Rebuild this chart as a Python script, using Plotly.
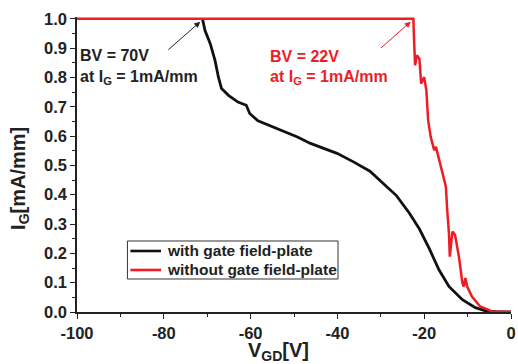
import plotly.graph_objects as go

# ---- data ----
black_v = [-71.1, -70.5, -69.3, -68.2, -67.4, -66.7, -65.1, -62.9, -61.0, -60.2, -58.3, -55.5,
           -53.0, -49.2, -46.2, -43.1, -40.1, -36.3, -32.5, -29.5, -26.4, -23.4, -21.1, -18.8,
           -16.6, -14.3, -11.2, -8.2, -5.9, -3.0, 0.0]
black_i = [1.0, 0.96, 0.915, 0.858, 0.80, 0.762, 0.739, 0.716, 0.705, 0.677, 0.652, 0.635,
           0.62, 0.597, 0.575, 0.558, 0.541, 0.512, 0.480, 0.439, 0.397, 0.337, 0.283, 0.215,
           0.144, 0.087, 0.042, 0.015, 0.004, 0.0, 0.0]

red_v = [-100.0, -22.5, -22.3, -22.1, -21.7, -21.1, -20.7, -20.0, -19.5, -19.1, -18.5, -17.7,
         -17.3, -16.7, -16.2, -15.0, -14.7, -14.3, -14.1, -13.5, -12.9, -12.0, -11.2, -10.9,
         -10.5, -10.1, -9.0, -7.1, -5.6, -4.4, 0.0]
red_i = [1.0, 1.0, 0.915, 0.841, 0.875, 0.864, 0.779, 0.801, 0.756, 0.654, 0.597, 0.552,
         0.563, 0.529, 0.495, 0.427, 0.348, 0.269, 0.189, 0.274, 0.263, 0.189, 0.099, 0.087,
         0.116, 0.087, 0.053, 0.019, 0.010, 0.002, 0.0]

x_tickvals = [-100, -80, -60, -40, -20, 0]
x_ticktext = ["-100", "-80", "-60", "-40", "-20", "0"]
y_tickvals = [0.0, 0.1, 0.2, 0.3, 0.4, 0.5, 0.6, 0.7, 0.8, 0.9, 1.0]
y_ticktext = ["0.0", "0.1", "0.2", "0.3", "0.4", "0.5", "0.6", "0.7", "0.8", "0.9", "1.0"]

series_names = ["with gate field-plate", "without gate field-plate"]

BLACK = "#111111"
RED = "#ee1c25"
TXT = "#222222"
FONT = "Liberation Sans, Arial, sans-serif"

fig = go.Figure()
fig.add_trace(go.Scatter(x=black_v, y=black_i, mode="lines", name=series_names[0],
                         line=dict(color=BLACK, width=2.8), showlegend=False))
fig.add_trace(go.Scatter(x=red_v, y=red_i, mode="lines", name=series_names[1],
                         line=dict(color=RED, width=2.5), showlegend=False))

axis_common = dict(showgrid=False, zeroline=False, showline=True, linecolor=TXT,
                   linewidth=1.5, ticks="outside", ticklen=5, tickwidth=1.2,
                   tickcolor=TXT, ticklabeloverflow="allow",
                   tickfont=dict(family=FONT, size=16.5, color=TXT, weight="bold"))

fig.update_xaxes(range=[-100, 0], tickvals=x_tickvals, ticktext=x_ticktext,
                 minor=dict(dtick=10, ticks="outside", ticklen=3, tickcolor=TXT),
                 **axis_common)
fig.update_yaxes(range=[0, 1.006], tickvals=y_tickvals, ticktext=y_ticktext,
                 minor=dict(dtick=0.05, ticks="outside", ticklen=3, tickcolor=TXT),
                 **axis_common)

ann = []
# axis titles
ann.append(dict(text="<b>V<sub>GD</sub>[V]</b>", xref="paper", yref="paper",
                x=0.465, y=-0.18, xanchor="center", yanchor="bottom", showarrow=False,
                borderpad=0, font=dict(family=FONT, size=20, color=TXT)))
ann.append(dict(text="<b>I<sub>G</sub>[mA/mm]</b>", xref="paper", yref="paper",
                x=-0.134, y=0.454, xanchor="center", yanchor="middle", showarrow=False,
                textangle=-90, font=dict(family=FONT, size=20, color=TXT)))
# black annotation
ann.append(dict(text="<b>BV = 70V</b>", x=-99.8, y=0.876, xanchor="left", yanchor="middle",
                showarrow=False, font=dict(family=FONT, size=16, color=TXT)))
ann.append(dict(text="<b>at I<sub>G</sub> = 1mA/mm</b>", x=-99.8, y=0.80, xanchor="left",
                yanchor="middle", showarrow=False, font=dict(family=FONT, size=16, color=TXT)))
ann.append(dict(text="", x=-71.6, y=0.99, ax=-79.3, ay=0.89, axref="x", ayref="y",
                showarrow=True, arrowhead=2, arrowsize=1.2, arrowwidth=1, arrowcolor=TXT))
# red annotation
ann.append(dict(text="<b>BV = 22V</b>", x=-56.0, y=0.873, xanchor="left", yanchor="middle",
                showarrow=False, font=dict(family=FONT, size=16, color=RED)))
ann.append(dict(text="<b>at I<sub>G</sub> = 1mA/mm</b>", x=-56.0, y=0.80, xanchor="left",
                yanchor="middle", showarrow=False, font=dict(family=FONT, size=16, color=RED)))
ann.append(dict(text="", x=-23.1, y=0.99, ax=-30.3, ay=0.896, axref="x", ayref="y",
                showarrow=True, arrowhead=2, arrowsize=1.2, arrowwidth=1, arrowcolor=RED))

# legend (box, line samples and labels in paper coordinates)
leg_x0, leg_x1, leg_y0, leg_y1 = 0.1162, 0.6014, 0.1119, 0.2407
row_y = [0.2068, 0.1424]
shapes = [dict(type="rect", xref="paper", yref="paper", x0=leg_x0, x1=leg_x1,
               y0=leg_y0, y1=leg_y1, line=dict(color="#333333", width=1),
               fillcolor="white", layer="above")]
for name, color, yy in zip(series_names, [BLACK, RED], row_y):
    shapes.append(dict(type="line", xref="paper", yref="paper", x0=0.1230, x1=0.1936,
                       y0=yy, y1=yy, line=dict(color=color, width=2.6), layer="above"))
    ann.append(dict(text="<b>" + name + "</b>", xref="paper", yref="paper", x=0.2027, y=yy,
                    xanchor="left", yanchor="middle", showarrow=False,
                    font=dict(family=FONT, size=15.5, color=TXT)))

fig.update_layout(
    width=518, height=364,
    margin=dict(l=77, r=2, t=17, b=52),
    paper_bgcolor="white", plot_bgcolor="white",
    showlegend=False,
    shapes=shapes,
    annotations=ann,
)

fig.write_html("out.html")
